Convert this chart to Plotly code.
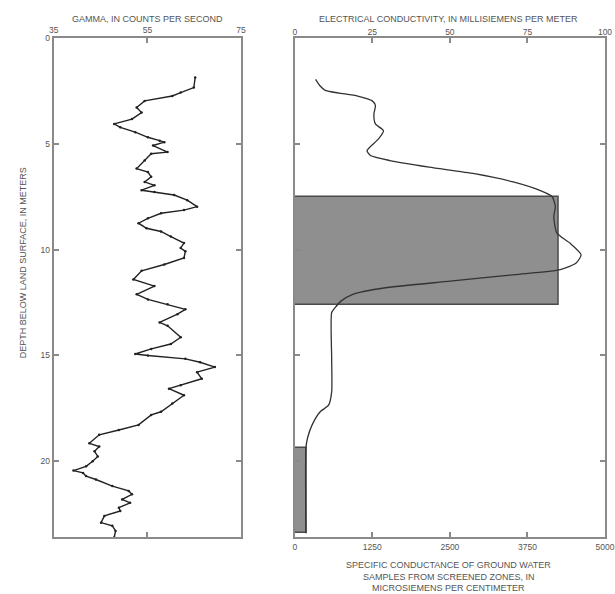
import plotly.graph_objects as go

# ---- data ----
gamma_depth = [1.87, 2.34, 2.58, 2.74, 2.97, 3.28, 3.52, 3.83, 4.06, 4.22, 4.45, 4.69, 4.85, 4.92,
               5.08, 5.39, 5.47, 5.79, 6.17, 6.33, 6.56, 6.80, 6.96, 7.19, 7.27, 7.42, 7.66, 7.97,
               8.13, 8.28, 8.52, 8.75, 8.99, 9.14, 9.38, 9.69, 9.92, 10.08, 10.39, 10.70, 11.00,
               11.41, 11.72, 12.11, 12.35, 12.58, 12.82, 13.05, 13.44, 13.60, 14.14, 14.46, 14.69,
               14.93, 15.00, 15.16, 15.32, 15.55, 15.79, 16.10, 16.41, 16.57, 16.88, 17.27, 17.66,
               17.81, 18.28, 18.52, 18.75, 19.15, 19.30, 19.53, 19.77, 20.00, 20.24, 20.44, 20.55,
               20.70, 20.86, 21.17, 21.40, 21.56, 21.80, 21.96, 22.19, 22.35, 22.58, 22.90, 23.05,
               23.29, 23.60]
gamma_cps = [65.2, 64.9, 62.1, 60.3, 54.4, 52.7, 53.75, 51.7, 47.9, 49.2, 52.4, 55.1, 57.6, 58.6,
             56.2, 59.3, 55.8, 54.4, 52.7, 55.1, 55.8, 54.4, 56.5, 53.75, 56.5, 60.7, 63.5, 65.6,
             62.8, 57.9, 55.1, 53.1, 54.8, 57.9, 60.0, 62.8, 62.1, 63.1, 62.8, 58.6, 53.75,
             52.0, 56.5, 52.7, 55.1, 59.3, 63.1, 61.4, 57.6, 59.3, 62.1, 60.0, 55.8,
             52.4, 55.1, 63.1, 66.25, 69.4, 65.6, 66.6, 62.1, 59.6, 62.8, 60.3, 57.9,
             55.8, 53.1, 48.9, 44.7, 42.6, 44.7, 43.7, 44.4, 43.3, 41.9, 39.2, 41.25,
             41.9, 44.0, 47.5, 51.0, 51.7, 49.6, 51.3, 48.9, 49.2, 45.8, 45.1, 47.5,
             48.2, 47.9]

cond_depth = [1.95, 2.27, 2.47, 2.74, 2.97, 3.20, 3.60, 4.06, 4.38, 4.77, 5.32, 5.55, 5.79, 6.10,
              6.41, 6.80, 7.19, 7.50, 7.97, 8.44, 9.22, 9.69, 10.24, 10.63, 10.94, 11.18, 11.49,
              11.80, 12.11, 12.42, 12.74, 12.97, 15.16, 16.72, 17.35, 17.66, 18.28, 18.91, 19.38,
              23.40]
cond_ms = [6.7, 8.2, 9.8, 20.3, 25.0, 26.0, 25.5, 26.0, 28.6, 27.0, 23.3, 24.4, 30.7, 43.3,
           57.9, 70.4, 78.8, 83.0, 84.0, 83.5, 84.5, 88.7, 92.3, 90.7, 85.6, 70.9, 50.1,
           29.2, 18.7, 15.0, 13.0, 11.9, 11.9, 11.9, 10.9, 8.2, 5.6, 4.1, 3.6,
           3.6]

# screened zones: specific conductance of water samples
zone_top = [7.5, 19.35]
zone_bottom = [12.6, 23.4]
zone_sc = [4250, 200]

gamma_ticks = [35, 55, 75]
depth_ticks = [0, 5, 10, 15, 20]
cond_ticks = [0, 25, 50, 75, 100]
sc_ticks = [0, 1250, 2500, 3750, 5000]

W, H = 615, 594
FONT = "Liberation Sans"
TXT = "#555555"
AX = "#8a8a8a"

fig = go.Figure()

fig.add_trace(go.Bar(
    orientation="h",
    x=zone_sc,
    y=[(a + b) / 2 for a, b in zip(zone_top, zone_bottom)],
    width=[b - a for a, b in zip(zone_top, zone_bottom)],
    base=0,
    marker=dict(color="#8f8f8f", line=dict(color="#4a4a4a", width=1.5)),
    xaxis="x2", yaxis="y2", showlegend=False, hoverinfo="skip",
))

fig.add_trace(go.Scatter(
    x=cond_ms, y=cond_depth, mode="lines",
    line=dict(color="#333333", width=1.3, shape="spline", smoothing=0.6),
    xaxis="x3", yaxis="y2", showlegend=False,
))

fig.add_trace(go.Scatter(
    x=gamma_cps, y=gamma_depth, mode="lines+markers",
    line=dict(color="#222222", width=1.4),
    marker=dict(color="#222222", size=2.5),
    xaxis="x", yaxis="y", showlegend=False,
))

tickfont = dict(family=FONT, size=8.5, color=TXT)
common = dict(showline=True, linecolor=AX, linewidth=2, ticks="inside", ticklen=5,
              tickcolor=AX, tickwidth=1.5, showgrid=False, zeroline=False, tickfont=tickfont,
              ticklabeloverflow="allow")

ydom = [1 - 537 / H, 1 - 33.3 / H]
fig.update_layout(
    width=W, height=H,
    margin=dict(l=0, r=0, t=0, b=0),
    paper_bgcolor="white", plot_bgcolor="white",
    bargap=0,
    xaxis=dict(domain=[50 / W, 242 / W], range=[35, 75], side="top", anchor="y",
               tickvals=gamma_ticks, mirror="ticks", **common),
    yaxis=dict(domain=ydom, range=[23.6, 0], anchor="x", tickvals=depth_ticks,
               mirror="ticks", **common),
    xaxis2=dict(domain=[297 / W, 1.0], range=[0, 5000], side="bottom", anchor="y2",
                tickvals=sc_ticks, mirror=True, **common),
    yaxis2=dict(domain=ydom, range=[23.6, 0], anchor="x2", tickvals=depth_ticks,
                showticklabels=False, mirror="ticks", **common),
    xaxis3=dict(overlaying="x2", range=[0, 100], side="top", anchor="y2",
                tickvals=cond_ticks, showline=False, ticks="inside", ticklen=5,
                tickcolor=AX, tickwidth=1.5, showgrid=False, zeroline=False, tickfont=tickfont,
                ticklabeloverflow="allow"),
)

def ann(text, px, py, angle=0):
    fig.add_annotation(text=text, xref="paper", yref="paper", x=px / W, y=1 - py / H,
                       showarrow=False, textangle=angle, xanchor="center", yanchor="middle",
                       font=dict(family=FONT, size=9, color=TXT))

ann("GAMMA, IN COUNTS PER SECOND", 146, 14)
ann("ELECTRICAL CONDUCTIVITY, IN MILLISIEMENS PER METER", 455, 14)
ann("DEPTH BELOW LAND SURFACE, IN METERS", 18, 260, angle=-90)
ann("SPECIFIC CONDUCTANCE OF GROUND WATER", 455, 565)
ann("SAMPLES FROM SCREENED ZONES, IN", 455, 577)
ann("MICROSIEMENS PER CENTIMETER", 455, 588)

fig.write_html("out.html", config={"displayModeBar": False},
               post_script="document.body.style.margin='0';document.body.style.padding='0';")
